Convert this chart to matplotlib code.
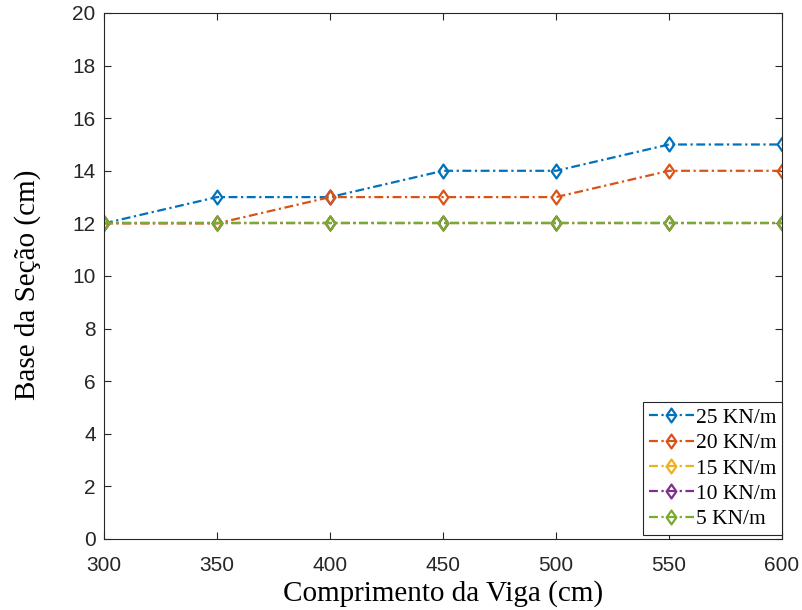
import matplotlib
matplotlib.use("Agg")
import matplotlib.pyplot as plt
from matplotlib.path import Path

comprimento = [300, 350, 400, 450, 500, 550, 600]
base_25 = [12, 13, 13, 14, 14, 15, 15]
base_20 = [12, 12, 13, 13, 13, 14, 14]
base_15 = [12, 12, 12, 12, 12, 12, 12]
base_10 = [12, 12, 12, 12, 12, 12, 12]
base_5 = [12, 12, 12, 12, 12, 12, 12]
rotulos = ["25 KN/m", "20 KN/m", "15 KN/m", "10 KN/m", "5 KN/m"]
cores = ["#0072BD", "#D95319", "#EDB120", "#7E2F8E", "#77AC30"]

# losango estilo MATLAB (mais alto que largo)
losango = Path([(0, 1), (0.7, 0), (0, -1), (-0.7, 0), (0, 1)],
               [Path.MOVETO, Path.LINETO, Path.LINETO, Path.LINETO, Path.CLOSEPOLY])

plt.rcParams["font.family"] = ["Liberation Serif", "DejaVu Serif"]

fig = plt.figure(figsize=(8.02, 6.10), dpi=100)
ax = fig.add_axes([0.1297, 0.1164, 0.8454, 0.8623])

for serie, rot, cor in zip([base_25, base_20, base_15, base_10, base_5], rotulos, cores):
    ax.plot(comprimento, serie, linestyle=(0, (4.0, 1.6, 1.0, 1.6)), color=cor,
            linewidth=1.6, marker=losango, markersize=10, markerfacecolor="none",
            markeredgewidth=1.6, label=rot)

ax.set_xlim(300, 600)
ax.set_ylim(0, 20)
ax.set_xticks(range(300, 601, 50))
ax.set_yticks(range(0, 21, 2))
ax.tick_params(direction="in", top=True, right=True, length=5, width=0.8,
               color="#262626", labelcolor="#262626")
ax.tick_params(axis="x", pad=12)
ax.tick_params(axis="y", pad=6)
for lab in ax.get_xticklabels() + ax.get_yticklabels():
    lab.set_family(["Liberation Sans", "DejaVu Sans"])
    lab.set_fontsize(15)
for s in ax.spines.values():
    s.set_linewidth(0.8)
    s.set_color("#262626")
ax.set_xlabel("Comprimento da Viga (cm)", fontsize=21, labelpad=4)
ax.set_ylabel("Base da Seção (cm)", fontsize=21)
ax.yaxis.set_label_coords(-0.093, 0.483)

leg = ax.legend(loc="lower right", bbox_to_anchor=(1.0, 0.008), fontsize=15.5,
                frameon=True, fancybox=False, edgecolor="#262626", framealpha=1,
                borderaxespad=0, handlelength=2.1, labelspacing=0.25,
                borderpad=0.25, handletextpad=0.1)
leg.get_frame().set_linewidth(0.8)

fig.savefig("out.png", dpi=100)
